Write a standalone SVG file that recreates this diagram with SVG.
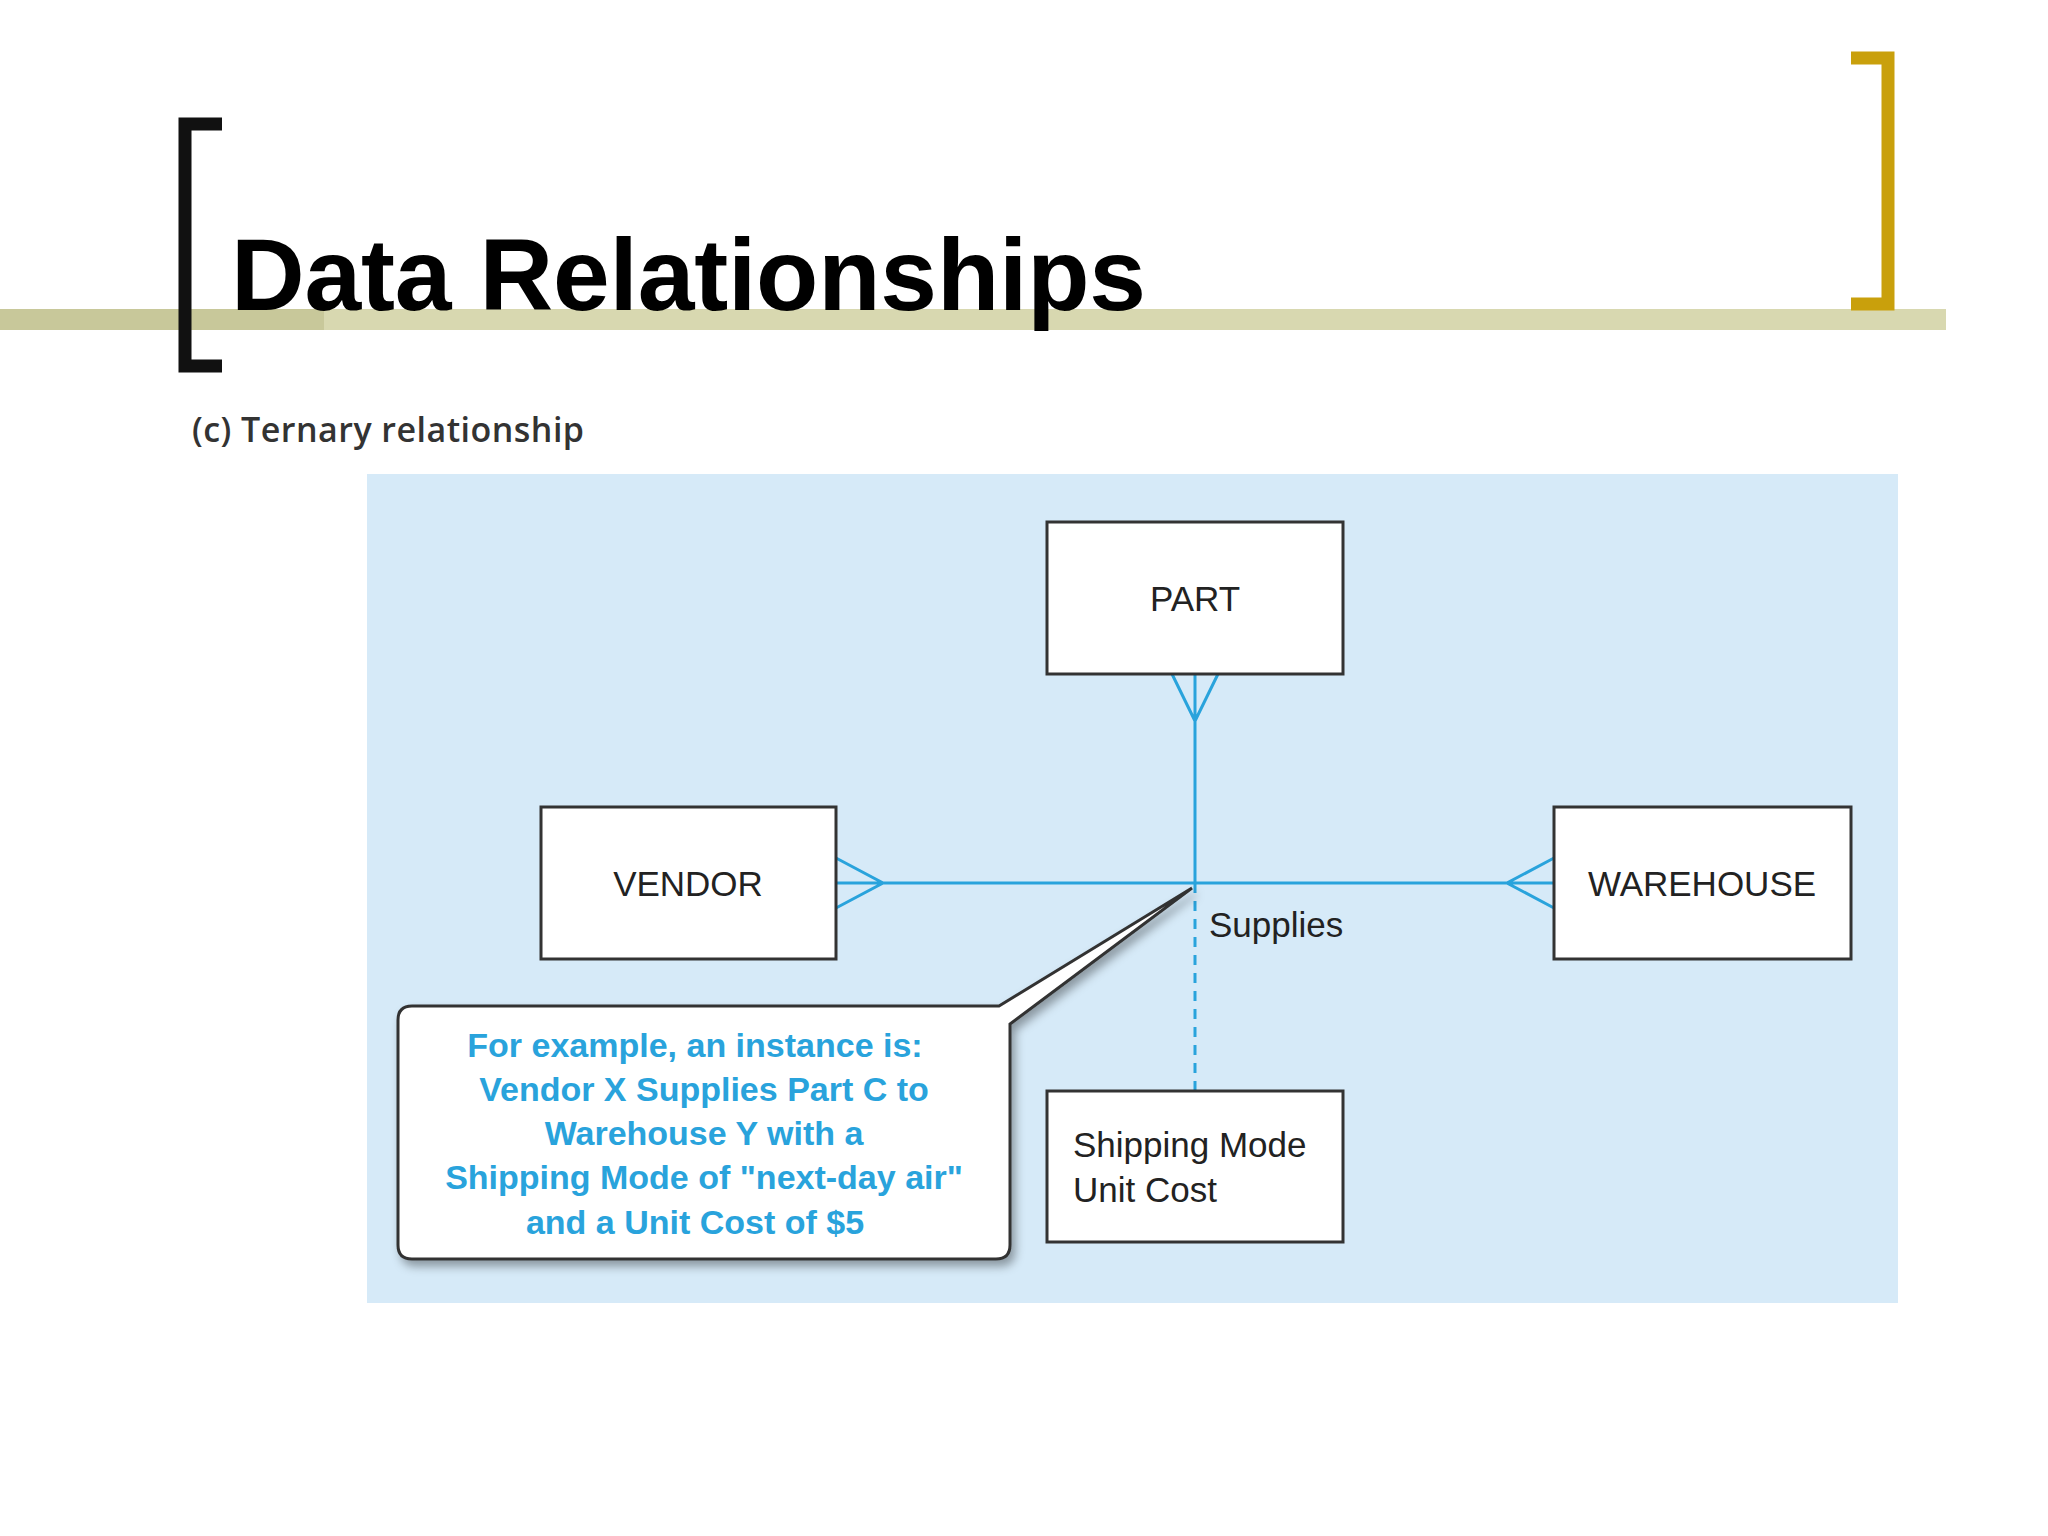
<svg xmlns="http://www.w3.org/2000/svg" width="2048" height="1536" viewBox="0 0 2048 1536">
<defs>
<style>
.box{fill:#fff;stroke:#333;stroke-width:3}
.lbl{font-family:"Liberation Sans",Arial,sans-serif;font-size:35px;fill:#222;text-anchor:middle}
.ln{stroke:#29a3dc;stroke-width:3;fill:none}
.co{font-family:"Liberation Sans",Arial,sans-serif;font-size:34px;fill:#29a3dc;font-weight:bold;text-anchor:middle}
</style>
<filter id="sh" x="-10%" y="-10%" width="130%" height="130%"><feDropShadow dx="4" dy="6" stdDeviation="5" flood-color="#000" flood-opacity="0.35"/></filter>
</defs>
<rect width="2048" height="1536" fill="#fff"/>
<rect x="0" y="309" width="1946" height="21" fill="#d8d8b0"/>
<rect x="0" y="309" width="324" height="21" fill="#c8c89a"/>
<path d="M222,124 H185 V366 H222" fill="none" stroke="#111" stroke-width="13"/>
<path d="M1851,58 H1888 V304 H1851" fill="none" stroke="#c9a00c" stroke-width="13"/>
<text x="231" y="310" font-family="Liberation Sans,Arial,sans-serif" font-size="102" font-weight="bold" fill="#000" textLength="915">Data Relationships</text>
<text x="192" y="442" font-family="Open Sans,Liberation Sans,sans-serif" font-size="34" font-weight="600" fill="#333" textLength="392">(c) Ternary relationship</text>
<rect x="367" y="474" width="1531" height="829" fill="#d6eaf8"/>
<g id="connectors">
<path class="ln" d="M1195,674 V883 M836,883 H1554 M1172,674 L1195,721 L1218,674 M836,858 L883,883 L836,908 M1554,858 L1507,883 L1554,908"/>
<path class="ln" d="M1195,883 V1091" stroke-dasharray="10,8"/>
</g>
<g id="part"><rect class="box" x="1047" y="522" width="296" height="152"/><text class="lbl" x="1195" y="611">PART</text></g>
<g id="vendor"><rect class="box" x="541" y="807" width="295" height="152"/><text class="lbl" x="688" y="896">VENDOR</text></g>
<g id="warehouse"><rect class="box" x="1554" y="807" width="297" height="152"/><text class="lbl" x="1702" y="896">WAREHOUSE</text></g>
<g id="attrs"><rect class="box" x="1047" y="1091" width="296" height="151"/><text class="lbl" x="1073" y="1157" style="text-anchor:start">Shipping Mode</text><text class="lbl" x="1073" y="1202" style="text-anchor:start">Unit Cost</text></g>
<text class="lbl" x="1209" y="937" style="text-anchor:start">Supplies</text>
<g id="callout">
<path d="M412,1006 H999 L1192,888 L1010,1024 V1245 Q1010,1259 996,1259 H412 Q398,1259 398,1245 V1020 Q398,1006 412,1006 Z" fill="#fff" stroke="#333" stroke-width="3" filter="url(#sh)"/>
<text class="co" x="695" y="1057">For example, an instance is:</text>
<text class="co" x="704" y="1101">Vendor X Supplies Part C to</text>
<text class="co" x="704" y="1145">Warehouse Y with a</text>
<text class="co" x="704" y="1189">Shipping Mode of "next-day air"</text>
<text class="co" x="695" y="1234">and a Unit Cost of $5</text>
</g>
</svg>
